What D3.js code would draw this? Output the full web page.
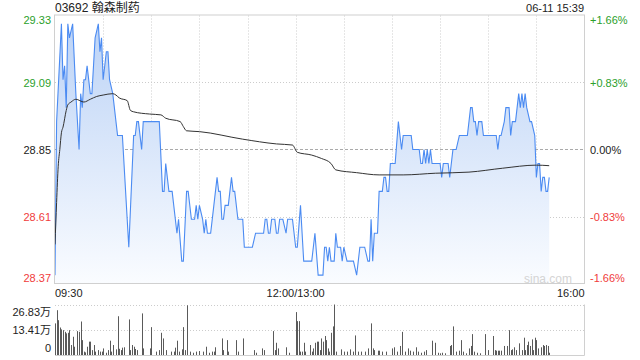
<!DOCTYPE html>
<html>
<head>
<meta charset="utf-8">
<script src="https://cdn.jsdelivr.net/npm/d3@7"></script>
<style>
body { margin: 0; background: #fff; }
text { font-family: "Liberation Sans", Arial, "Noto Sans CJK SC", sans-serif; }
</style>
</head>
<body>
<div id="container"></div>
<script>
var svgWidth = 640;
var svgHeight = 360;

var title = '03692 翰森制药';
var stamp = '06-11 15:39';
var prevClose = 28.85;

// minute index from 09:30 (lunch removed), price
var pricePoints = [
    [0,28.40],[1,28.95],[4,29.30],[5,29.10],[6,29.15],[7,29.00],[8,29.30],[9,29.25],[11,29.30],[13,29.05],
    [15,28.85],[16,29.05],[17,29.00],[18,29.10],[19,29.10],[20,29.15],[22,29.05],[23,29.05],[24,29.15],[25,29.25],
    [27,29.30],[28,29.20],[29,29.25],[30,29.10],[32,29.20],[33,29.20],[34,29.10],[36,29.05],[39,28.90],[42,28.90],
    [46,28.50],[49,28.90],[50,28.90],[51,28.95],[52,28.95],[54,28.85],[55,28.95],[65,28.95],[67,28.70],[68,28.70],
    [69,28.80],[71,28.70],[73,28.70],[75,28.60],[76,28.55],[77,28.60],[79,28.45],[80,28.45],[82,28.70],[83,28.70],
    [85,28.60],[87,28.60],[88,28.65],[89,28.60],[90,28.65],[92,28.60],[93,28.55],[94,28.60],[95,28.55],[97,28.55],
    [99,28.65],[101,28.75],[102,28.70],[103,28.70],[104,28.60],[105,28.60],[106,28.65],[108,28.65],[110,28.75],[111,28.70],
    [112,28.70],[114,28.60],[117,28.60],[118,28.50],[123,28.50],[125,28.55],[130,28.55],[131,28.60],[132,28.60],[133,28.55],
    [134,28.55],[135,28.60],[137,28.60],[138,28.55],[139,28.55],[140,28.60],[142,28.60],[144,28.55],[145,28.60],[148,28.60],
    [150,28.50],[151,28.50],[153,28.65],[155,28.45],[160,28.45],[162,28.55],[164,28.40],[167,28.40],[168,28.50],[169,28.50],
    [170,28.45],[171,28.50],[172,28.45],[174,28.45],[175,28.55],[176,28.50],[178,28.50],[179,28.45],[180,28.50],[182,28.45],
    [186,28.45],[188,28.40],[190,28.50],[193,28.50],[195,28.45],[196,28.45],[197,28.60],[198,28.45],[199,28.55],[201,28.55],
    [202,28.70],[204,28.70],[205,28.75],[206,28.75],[207,28.70],[208,28.70],[209,28.80],[212,28.80],[214,28.95],[216,28.85],
    [217,28.90],[222,28.90],[223,28.85],[227,28.85],[228,28.80],[229,28.80],[230,28.85],[231,28.80],[232,28.85],[233,28.80],
    [234,28.85],[235,28.80],[240,28.80],[241,28.75],[242,28.80],[245,28.80],[246,28.75],[248,28.85],[250,28.85],[252,28.90],
    [257,28.90],[259,29.00],[260,29.00],[261,28.95],[262,28.95],[263,28.90],[264,28.95],[266,28.95],[267,28.90],[275,28.90],
    [276,28.85],[277,28.90],[278,28.90],[280,28.95],[281,29.00],[283,29.00],[284,28.90],[285,28.95],[287,28.95],[288,29.00],
    [289,29.05],[290,29.00],[291,29.05],[292,29.00],[293,29.05],[294,29.00],[296,28.95],[297,28.95],[299,28.90],[300,28.75],
    [301,28.80],[302,28.80],[303,28.70],[304,28.75],[305,28.75],[306,28.70],[307,28.70],[308,28.75]
];

var avgPoints = [
    [0,28.51],[1,28.66],[2,28.79],[3,28.85],[4,28.91],[5,28.93],[7,28.99],[8,29.01],[10,29.02],[13,29.03],
    [18,29.02],[22,29.03],[26,29.04],[30,29.045],[36,29.05],[38,29.045],[40,29.035],[45,29.025],[47,28.99],[49,28.985],
    [59,28.977],[66,28.974],[69,28.962],[78,28.95],[80,28.932],[82,28.917],[90,28.914],[117,28.887],[138,28.870],[148,28.866],
    [151,28.84],[160,28.83],[166,28.818],[172,28.80],[175,28.777],[188,28.767],[202,28.759],[217,28.759],[237,28.765],[258,28.769],
    [279,28.783],[300,28.794],[308,28.792]
];

// minute index, volume in 万
var volumePoints = [
    [0,16.8],[1,23.8],[2,18.5],[3,14.6],[4,13.6],[5,13.2],[6,12.3],[7,11.5],[8,11.8],[9,13.2],
    [10,5.3],[11,9.7],[12,4.4],[14,12.7],[15,12.3],[16,17.8],[17,7.9],[18,1.8],[19,1.4],[20,4.4],
    [21,7.1],[22,7.1],[23,2.6],[24,5.3],[25,1.8],[27,2.6],[28,1.8],[29,1.8],[30,3.5],[32,1.2],
    [33,2.6],[34,7.6],[35,1.8],[36,5.3],[38,3.0],[39,20.6],[40,3.3],[41,2.6],[42,3.9],[43,4.1],
    [46,18.9],[47,2.6],[48,5.3],[49,4.4],[50,3.2],[51,2.6],[54,22.1],[55,3.5],[59,3.5],[60,14.8],
    [63,1.8],[65,2.6],[66,11.8],[67,8.8],[69,2.6],[72,1.8],[74,1.8],[75,3.9],[76,7.6],[77,1.8],
    [79,3.0],[80,14.8],[81,2.6],[82,26.4],[84,1.8],[86,1.2],[88,1.8],[90,2.1],[92,1.8],[94,4.4],
    [96,1.2],[98,1.8],[99,1.8],[100,4.1],[104,8.8],[105,2.6],[107,7.9],[108,1.8],[113,7.9],[114,1.8],
    [117,8.8],[124,2.6],[125,1.2],[129,3.5],[130,2.6],[136,12.7],[137,2.6],[138,6.5],[139,3.5],[144,4.1],
    [146,1.2],[150,22.8],[151,18.0],[152,18.0],[153,1.8],[154,1.8],[155,6.5],[156,1.8],[159,5.3],[160,1.8],
    [161,3.5],[162,6.5],[163,7.1],[164,7.1],[165,2.6],[166,8.8],[167,7.1],[168,10.1],[169,7.9],[170,3.5],
    [171,1.8],[172,11.8],[173,15.2],[174,26.83],[175,1.8],[178,3.0],[180,1.8],[182,1.8],[184,3.0],[186,1.8],
    [187,10.4],[189,1.8],[191,1.8],[193,1.8],[195,3.5],[197,16.8],[198,3.5],[199,2.6],[201,2.3],[202,2.3],
    [204,1.8],[206,1.8],[210,3.5],[211,4.1],[213,1.8],[215,4.8],[216,12.3],[218,1.8],[220,3.5],[221,2.3],
    [223,1.8],[225,4.1],[226,1.8],[228,1.2],[230,1.8],[231,2.6],[235,7.6],[237,6.5],[239,1.2],[240,0.9],
    [241,1.2],[243,0.9],[246,4.8],[247,5.3],[248,15.2],[250,1.8],[252,2.3],[253,7.9],[254,1.8],[256,0.9],
    [258,3.5],[259,4.8],[260,11.1],[261,1.8],[263,1.2],[265,0.9],[268,11.1],[270,2.6],[273,10.1],[274,2.6],
    [275,2.3],[276,2.3],[277,2.3],[278,2.3],[280,4.8],[282,4.8],[283,13.2],[284,2.6],[285,3.0],[286,4.1],
    [287,2.6],[289,6.2],[291,2.6],[292,9.2],[293,2.6],[294,5.3],[295,7.1],[296,4.8],[297,8.3],[298,2.6],
    [299,9.2],[300,7.9],[301,3.5],[303,4.1],[304,5.3],[305,4.8],[306,5.3],[307,4.8],[308,1.2]
];

var priceTicks = [29.33, 29.09, 28.85, 28.61, 28.37];
var pctTicks = ['+1.66%', '+0.83%', '0.00%', '-0.83%', '-1.66%'];
var timeTicks = [0, 150, 330];
var timeLabels = ['09:30', '12:00/13:00', '16:00'];
var volTicks = [26.83, 13.41, 0];
var volLabels = ['26.83万', '13.41万', '0'];

var plotL = 55, plotR = 584.5, plotT = 15.5, plotB = 283.5;
var volT = 304.5, volB = 355;
var GREEN = '#2ba02b', RED = '#f03c3c', DARK = '#222';

var svg = d3.select('#container').append('svg')
    .attr('width', svgWidth)
    .attr('height', svgHeight);

var x = d3.scaleLinear().domain([0, 330]).range([plotL, plotR]);
var y = d3.scaleLinear().domain([28.37, 29.33]).range([plotB, plotT]);
var yVol = d3.scaleLinear().domain([0, 26.83]).range([volB, volT]);

function tickColor(i) {
    return i < 2 ? GREEN : (i == 2 ? DARK : RED);
}

// gradient for the area
var grad = svg.append('defs').append('linearGradient')
    .attr('id', 'areaGrad')
    .attr('x1', 0).attr('y1', 0).attr('x2', 0).attr('y2', 1);
grad.append('stop').attr('offset', '0%').attr('stop-color', '#bcd3f6');
grad.append('stop').attr('offset', '100%').attr('stop-color', '#fafcff');

// vertical grid, every half hour
svg.append('g').selectAll('line')
    .data(d3.range(30, 330, 30))
    .enter().append('line')
    .attr('x1', d => Math.round(x(d)) + 0.5)
    .attr('x2', d => Math.round(x(d)) + 0.5)
    .attr('y1', plotT)
    .attr('y2', plotB)
    .style('stroke', '#ccc')
    .style('stroke-dasharray', '1,2');

// horizontal grid
svg.append('g').selectAll('line')
    .data(priceTicks.slice(1, 4))
    .enter().append('line')
    .attr('x1', plotL)
    .attr('x2', plotR)
    .attr('y1', d => Math.round(y(d)) + 0.5)
    .attr('y2', d => Math.round(y(d)) + 0.5)
    .style('stroke', (d, i) => i == 1 ? '#aaa' : '#ccc')
    .style('stroke-dasharray', (d, i) => i == 1 ? '3,2' : '1,2');

// area + price line
var area = d3.area()
    .x(d => x(d[0]))
    .y0(plotB)
    .y1(d => y(d[1]));

svg.append('path')
    .datum(pricePoints)
    .attr('d', area)
    .style('fill', 'url(#areaGrad)');

svg.append('path')
    .datum(pricePoints)
    .attr('d', d3.line().x(d => x(d[0])).y(d => y(d[1])))
    .style('fill', 'none')
    .style('stroke', '#4b8bf2')
    .style('stroke-width', 1.1);

svg.append('path')
    .datum(avgPoints)
    .attr('d', d3.line().x(d => x(d[0])).y(d => y(d[1])).curve(d3.curveMonotoneX))
    .style('fill', 'none')
    .style('stroke', '#333')
    .style('stroke-width', 1);

// plot frame
svg.append('rect')
    .attr('x', plotL - 0.5)
    .attr('y', plotT - 0.5)
    .attr('width', plotR - plotL + 0.5)
    .attr('height', plotB - plotT + 0.5)
    .style('fill', 'none')
    .style('stroke', '#d0d0d0');

svg.append('text')
    .attr('x', 572)
    .attr('y', 283)
    .attr('text-anchor', 'end')
    .style('font-size', '12px')
    .style('fill', '#d4d4d4')
    .text('sina.com');

// price labels
svg.append('g').selectAll('text')
    .data(priceTicks)
    .enter().append('text')
    .attr('x', 51)
    .attr('y', (d, i) => i == 0 ? 23.5 : (i == 4 ? 282 : y(d) + 4))
    .attr('text-anchor', 'end')
    .style('font-size', '11px')
    .style('fill', (d, i) => tickColor(i))
    .text(d => d.toFixed(2));

svg.append('g').selectAll('text')
    .data(pctTicks)
    .enter().append('text')
    .attr('x', 590)
    .attr('y', (d, i) => i == 0 ? 23.5 : (i == 4 ? 282 : y(priceTicks[i]) + 4))
    .style('font-size', '11px')
    .style('fill', (d, i) => tickColor(i))
    .text(d => d);

// title and time stamp
svg.append('text')
    .attr('x', 55)
    .attr('y', 12)
    .style('font-size', '12px')
    .style('fill', '#222')
    .text(title);

svg.append('text')
    .attr('x', 584)
    .attr('y', 12)
    .attr('text-anchor', 'end')
    .style('font-size', '11px')
    .style('fill', '#222')
    .text(stamp);

// time labels
svg.append('g').selectAll('text')
    .data(timeTicks)
    .enter().append('text')
    .attr('x', d => x(d))
    .attr('y', 297)
    .attr('text-anchor', (d, i) => i == 0 ? 'start' : (i == 2 ? 'end' : 'middle'))
    .style('font-size', '11px')
    .style('fill', '#222')
    .text((d, i) => timeLabels[i]);

// volume panel
svg.append('g').selectAll('line')
    .data(volTicks.slice(0, 2))
    .enter().append('line')
    .attr('x1', plotL)
    .attr('x2', plotR)
    .attr('y1', d => Math.round(yVol(d)) + 0.5)
    .attr('y2', d => Math.round(yVol(d)) + 0.5)
    .style('stroke', '#ccc')
    .style('stroke-dasharray', '1,2');

svg.append('path')
    .attr('d', 'M' + plotR + ',' + volT + 'V' + (volB + 0.5) + 'H' + plotL)
    .style('fill', 'none')
    .style('stroke', '#d0d0d0');

svg.append('g').selectAll('rect')
    .data(volumePoints)
    .enter().append('rect')
    .attr('x', d => Math.round(x(d[0])))
    .attr('width', 1)
    .attr('y', d => yVol(d[1]))
    .attr('height', d => volB - yVol(d[1]))
    .style('fill', '#5a5a5a');

svg.append('g').selectAll('text')
    .data(volTicks)
    .enter().append('text')
    .attr('x', 51)
    .attr('y', (d, i) => [316, 334, 352][i])
    .attr('text-anchor', 'end')
    .style('font-size', '11px')
    .style('fill', '#222')
    .text((d, i) => volLabels[i]);
</script>
</body>
</html>
